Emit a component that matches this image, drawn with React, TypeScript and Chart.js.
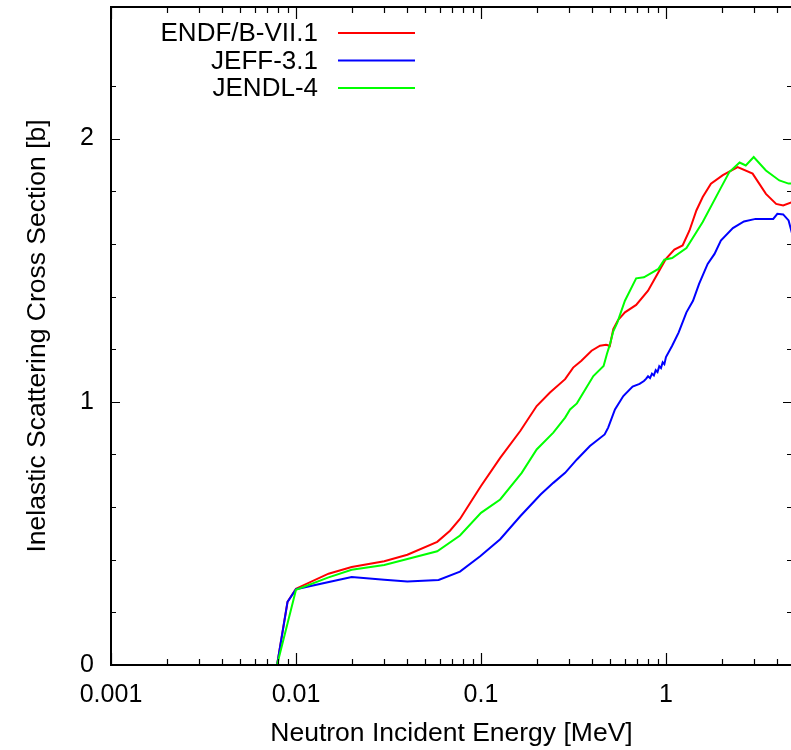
import React, { useEffect, useRef } from "react";
import { Chart, registerables } from "chart.js";

Chart.register(...registerables);

// ---- Data (energy in MeV, cross section in barns) ----
const ENDF_E = [0.0079, 0.009, 0.01, 0.015, 0.02, 0.03, 0.04, 0.058, 0.068, 0.077, 0.09, 0.1, 0.127, 0.163, 0.2, 0.236, 0.285, 0.315, 0.349, 0.396, 0.44, 0.474, 0.485, 0.497, 0.519, 0.55, 0.6, 0.69, 0.8, 0.91, 1.0, 1.11, 1.23, 1.34, 1.46, 1.58, 1.75, 2.03, 2.44, 2.94, 3.47, 3.94, 4.3, 4.8];
const ENDF_XS = [0.0, 0.24, 0.29, 0.347, 0.372, 0.394, 0.419, 0.468, 0.51, 0.555, 0.63, 0.68, 0.787, 0.889, 0.984, 1.035, 1.086, 1.13, 1.156, 1.194, 1.213, 1.217, 1.215, 1.212, 1.276, 1.31, 1.34, 1.368, 1.422, 1.492, 1.543, 1.578, 1.594, 1.651, 1.727, 1.778, 1.829, 1.861, 1.892, 1.867, 1.79, 1.752, 1.746, 1.758];

const JEFF_E = [0.0079, 0.009, 0.01, 0.02, 0.03, 0.04, 0.059, 0.077, 0.099, 0.127, 0.163, 0.21, 0.246, 0.285, 0.33, 0.388, 0.466, 0.487, 0.53, 0.588, 0.66, 0.72, 0.76, 0.78, 0.8, 0.82, 0.84, 0.86, 0.88, 0.9, 0.92, 0.94, 0.96, 0.98, 1.0, 1.08, 1.17, 1.29, 1.4, 1.51, 1.68, 1.83, 1.98, 2.3, 2.64, 3.05, 3.8, 4.0, 4.3, 4.6, 4.8];
const JEFF_XS = [0.0, 0.24, 0.288, 0.334, 0.324, 0.317, 0.323, 0.355, 0.413, 0.478, 0.565, 0.648, 0.692, 0.73, 0.781, 0.832, 0.876, 0.902, 0.971, 1.022, 1.058, 1.068, 1.079, 1.087, 1.097, 1.09, 1.107, 1.1, 1.12, 1.113, 1.135, 1.128, 1.15, 1.143, 1.17, 1.213, 1.263, 1.34, 1.384, 1.448, 1.524, 1.562, 1.613, 1.66, 1.685, 1.695, 1.695, 1.714, 1.712, 1.689, 1.64];

const JENDL_E = [0.0079, 0.01, 0.015, 0.02, 0.03, 0.058, 0.077, 0.1, 0.127, 0.166, 0.2, 0.246, 0.285, 0.303, 0.33, 0.405, 0.46, 0.479, 0.498, 0.519, 0.545, 0.6, 0.69, 0.76, 0.91, 0.98, 1.08, 1.29, 1.58, 1.97, 2.2, 2.5, 2.7, 2.98, 3.47, 4.1, 4.6, 4.8];
const JENDL_XS = [0.0, 0.286, 0.333, 0.362, 0.38, 0.432, 0.492, 0.578, 0.629, 0.73, 0.819, 0.883, 0.94, 0.971, 0.994, 1.098, 1.136, 1.181, 1.219, 1.268, 1.3, 1.384, 1.469, 1.473, 1.505, 1.54, 1.546, 1.584, 1.683, 1.81, 1.873, 1.909, 1.898, 1.93, 1.879, 1.841, 1.829, 1.829];

const SERIES_LABELS = ["ENDF/B-VII.1", "JEFF-3.1", "JENDL-4"];
const SERIES_COLORS = ["#ff0000", "#0000ff", "#00ff00"];

const X_MAJOR = [0.001, 0.01, 0.1, 1];
const X_MAJOR_LABELS = ["0.001", "0.01", "0.1", "1"];
const X_MINOR_MULT = [2, 3, 4, 5, 6, 7, 8, 9];
const X_MIN = 0.001;
const X_MAX = 4.8;
const Y_MIN = 0;
const Y_MAX = 2.5;
const Y_STEP = 0.2;

const X_TITLE = "Neutron Incident Energy [MeV]";
const Y_TITLE = "Inelastic Scattering Cross Section [b]";

const FONT = "'Liberation Sans', Arial, Helvetica, sans-serif";

function pts(xs: number[], ys: number[]) {
  return xs.map((x, i) => ({ x, y: ys[i] }));
}

const framePlugin = {
  id: "gnuFrame",
  afterDraw(chart: any) {
    const { ctx, chartArea } = chart;
    const { left, right, top, bottom } = chartArea;
    const xs = chart.scales.x;
    const ys = chart.scales.y;
    ctx.save();
    // ticks
    ctx.strokeStyle = "#000";
    ctx.lineWidth = 1.2;
    ctx.beginPath();
    xs.ticks.forEach((t: any) => {
      const px = Math.round(xs.getPixelForValue(t.value)) + 0.5;
      const len = t.major ? 12 : 6;
      ctx.moveTo(px, bottom);
      ctx.lineTo(px, bottom - len);
      ctx.moveTo(px, top);
      ctx.lineTo(px, top + len);
    });
    ys.ticks.forEach((t: any) => {
      const v = t.value;
      if (Math.abs(v * 5 - Math.round(v * 5)) > 1e-6) return;
      if (v <= Y_MIN + 1e-9 || v >= Y_MAX - 1e-9) return;
      const py = Math.round(ys.getPixelForValue(v)) + 0.5;
      const major = Math.abs(v - Math.round(v)) < 1e-6;
      const len = major ? 9 : 5;
      ctx.moveTo(left, py);
      ctx.lineTo(left + len, py);
      ctx.moveTo(right, py);
      ctx.lineTo(right - len, py);
    });
    ctx.stroke();
    // border
    ctx.lineWidth = 2;
    ctx.strokeRect(left, top, right - left, bottom - top);
    // legend
    ctx.font = `26px ${FONT}`;
    ctx.textAlign = "right";
    ctx.textBaseline = "middle";
    chart.data.datasets.forEach((ds: any, i: number) => {
      const y = 33 + i * 27.5;
      ctx.fillStyle = "#000";
      ctx.fillText(ds.label, 318, y + 1);
      ctx.strokeStyle = ds.borderColor;
      ctx.lineWidth = 2;
      ctx.beginPath();
      ctx.moveTo(338, y);
      ctx.lineTo(415, y);
      ctx.stroke();
    });
    ctx.restore();
  },
};

export default function App() {
  const ref = useRef<HTMLCanvasElement | null>(null);
  useEffect(() => {
    if (!ref.current) return;
    const chart = new Chart(ref.current, {
      type: "line",
      data: {
        datasets: [
          { label: SERIES_LABELS[0], data: pts(ENDF_E, ENDF_XS), borderColor: SERIES_COLORS[0], order: 2 },
          { label: SERIES_LABELS[1], data: pts(JEFF_E, JEFF_XS), borderColor: SERIES_COLORS[1], order: 1 },
          { label: SERIES_LABELS[2], data: pts(JENDL_E, JENDL_XS), borderColor: SERIES_COLORS[2], order: 0 },
        ],
      },
      options: {
        animation: false,
        responsive: false,
        events: [],
        layout: { padding: { left: 0, right: 18, top: 7, bottom: 0 } },
        elements: {
          point: { radius: 0 },
          line: { tension: 0, borderWidth: 2, fill: false },
        },
        plugins: { legend: { display: false }, tooltip: { enabled: false } },
        scales: {
          x: {
            type: "logarithmic",
            min: X_MIN,
            max: X_MAX,
            grid: { display: false, drawTicks: false },
            border: { display: false },
            afterBuildTicks: (s: any) => {
              const list: any[] = [];
              X_MAJOR.forEach((m) => {
                list.push({ value: m, major: true });
                X_MINOR_MULT.forEach((k) => {
                  const v = parseFloat((m * k).toPrecision(6));
                  if (v <= X_MAX) list.push({ value: v, major: false });
                });
              });
              s.ticks = list;
            },
            afterFit: (s: any) => {
              s.height = 85;
              s.paddingLeft = 0;
              s.paddingRight = 0;
            },
            ticks: {
              autoSkip: false,
              maxRotation: 0,
              minRotation: 0,
              padding: 15,
              color: "#000",
              font: { family: FONT, size: 25 },
              callback: (v: any) => {
                const idx = X_MAJOR.findIndex((m) => Math.abs(Number(v) - m) / m < 1e-6);
                return idx >= 0 ? X_MAJOR_LABELS[idx] : "";
              },
            },
            title: {
              display: true,
              text: X_TITLE,
              color: "#000",
              font: { family: FONT, size: 26.5 },
              padding: { top: 0, bottom: 0 },
            },
          },
          y: {
            type: "linear",
            min: Y_MIN,
            max: Y_MAX,
            grid: { display: false, drawTicks: false },
            border: { display: false },
            afterFit: (s: any) => {
              s.width = 111;
              s.paddingTop = 0;
              s.paddingBottom = 0;
            },
            ticks: {
              stepSize: Y_STEP,
              autoSkip: false,
              padding: 17,
              color: "#000",
              font: { family: FONT, size: 25 },
              callback: (v: any) => {
                const n = Number(v);
                return Math.abs(n - Math.round(n)) < 1e-6 && n < Y_MAX ? String(Math.round(n)) : "";
              },
            },
            title: {
              display: true,
              text: Y_TITLE,
              color: "#000",
              font: { family: FONT, size: 26.5 },
              padding: { top: 22, bottom: 0 },
            },
          },
        },
      },
      plugins: [framePlugin],
    });
    return () => chart.destroy();
  }, []);
  return (
    <div style={{ position: "absolute", left: 0, top: 0, width: 791, height: 750, overflow: "hidden", background: "#fff" }}>
      <canvas ref={ref} width={810} height={750} style={{ display: "block", width: 810, height: 750 }} />
    </div>
  );
}
